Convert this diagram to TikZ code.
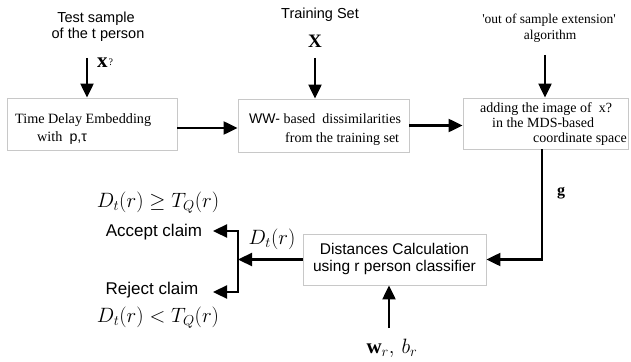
\documentclass[tikz,border=0pt]{standalone}
\usepackage{fontspec}
\setmainfont{Liberation Serif}
\setsansfont{Liberation Sans}
\usetikzlibrary{arrows.meta}
\definecolor{boxgray}{RGB}{200,200,200}
\newcommand{\fsz}[1]{\fontsize{#1}{#1}\selectfont}
\begin{document}
\begin{tikzpicture}[x=1pt,y=-1pt,
  box/.style={draw=boxgray, line width=0.9pt, inner sep=0pt},
  txt/.style={inner sep=0pt},
  arr/.style={line width=2.3pt, -{Triangle[length=14pt,width=13pt]}},
  ln/.style={line width=2.3pt}]
\useasboundingbox (0,0) rectangle (631,361);
% boxes
\node[box, minimum width=170pt, minimum height=52pt] (b1) at (92,124) {};
\node[box, minimum width=171pt, minimum height=53pt] (b2) at (323.5,125.5) {};
\node[box, minimum width=165pt, minimum height=51pt] (b3) at (545.5,123.5) {};
\node[box, minimum width=183pt, minimum height=51pt] (b4) at (394.5,259.5) {};
% box texts
\node[txt, anchor=base west, font=\fsz{14.2}] (b1a) at (15,123) {Time Delay Embedding};
\node[txt, anchor=base west, font=\fsz{14.2}] (b1b) at (37,141) {with\ \ {\sffamily p,τ}};
\node[txt, anchor=base west, font=\fsz{14}] (b2a) at (249,123) {{\sffamily WW-} based\ \ dissimilarities};
\node[txt, anchor=base west, font=\fsz{14}] (b2b) at (285,142) {from the training set};
\node[txt, anchor=base west, font=\fsz{14}] (b3a) at (480,112) {adding the image of\ \ x?};
\node[txt, anchor=base west, font=\fsz{14}] (b3b) at (492,127) {in the MDS-based};
\node[txt, anchor=base west, font=\fsz{14}] (b3c) at (533,142) {coordinate space};
\node[txt, anchor=base, font=\sffamily\fsz{15.5}] (b4a) at (394.5,254) {Distances Calculation};
\node[txt, anchor=base, font=\sffamily\fsz{15.5}] (b4b) at (394.5,271) {using r person classifier};
% top labels
\node[txt, anchor=base, font=\sffamily\fsz{14.5}] (t1a) at (96,23) {Test sample};
\node[txt, anchor=base, font=\sffamily\fsz{14.5}] (t1b) at (98,39) {of the t person};
\node[txt, anchor=base west, font=\bfseries\fsz{21}] (xq) at (97,67) {x\hspace{1pt}{\normalfont\fsz{10}\raisebox{2pt}{?}}};
\node[txt, anchor=base, font=\sffamily\fsz{14.5}] (t2) at (320,19) {Training Set};
\node[txt, anchor=base, font=\bfseries\fsz{19}] (xx) at (315,48) {X};
\node[txt, anchor=base, font=\fsz{13.5}] (t3a) at (549,24) {\textquotesingle out of sample extension\textquotesingle};
\node[txt, anchor=base, font=\fsz{13.5}] (t3b) at (550,40) {algorithm};
% other labels
\node[txt, anchor=base, font=\bfseries\fsz{16}] (g) at (561,195) {g};
\node[txt, anchor=base, font=\fsz{21}] (wb) at (392,353) {$\mathbf{w}_r,\,b_r$};
\node[txt, anchor=base, font=\fsz{22}] (dt) at (272,244) {$D_t(r)$};
\node[txt, anchor=base, font=\fsz{19.5}] (geq) at (158,207) {$D_t(r)\geq T_Q(r)$};
\node[txt, anchor=base, font=\fsz{19.5}] (lt) at (158,322) {$D_t(r)< T_Q(r)$};
\node[txt, anchor=base, font=\sffamily\fsz{17}] (acc) at (154,236) {Accept claim};
\node[txt, anchor=base, font=\sffamily\fsz{17}] (rej) at (152,294) {Reject claim};
% coordinates
\coordinate (s1) at (87,58);
\coordinate (s2) at (315,58);
\coordinate (s3) at (545,55);
\coordinate (s4) at (389,328);
\coordinate (ja) at (238,231);
\coordinate (jr) at (238,292);
\coordinate (acctip) at (213,231);
\coordinate (rejtip) at (213,292);
% connectors
\draw[arr] (s1) -- (s1 |- b1.north);
\draw[arr] (s2) -- (s2 |- b2.north);
\draw[arr] (s3) -- (s3 |- b3.north);
\draw[arr] ([yshift=-4pt]b1.east) -- ([yshift=-4pt]b1.east -| b2.west);
\draw[arr] (b2.east) -- (b2.east -| b3.west);
\draw[arr] ([xshift=-3.5pt]b3.south) |- (b4.east);
\draw[arr] (s4) -- (s4 |- b4.south);
\draw[arr] (b4.west) -- (b4.west -| ja);
\draw[ln, {Triangle[length=14pt,width=13pt]}-{Triangle[length=14pt,width=13pt]}] (acctip) -- (ja) -- (jr) -- (rejtip);
\end{tikzpicture}
\end{document}
